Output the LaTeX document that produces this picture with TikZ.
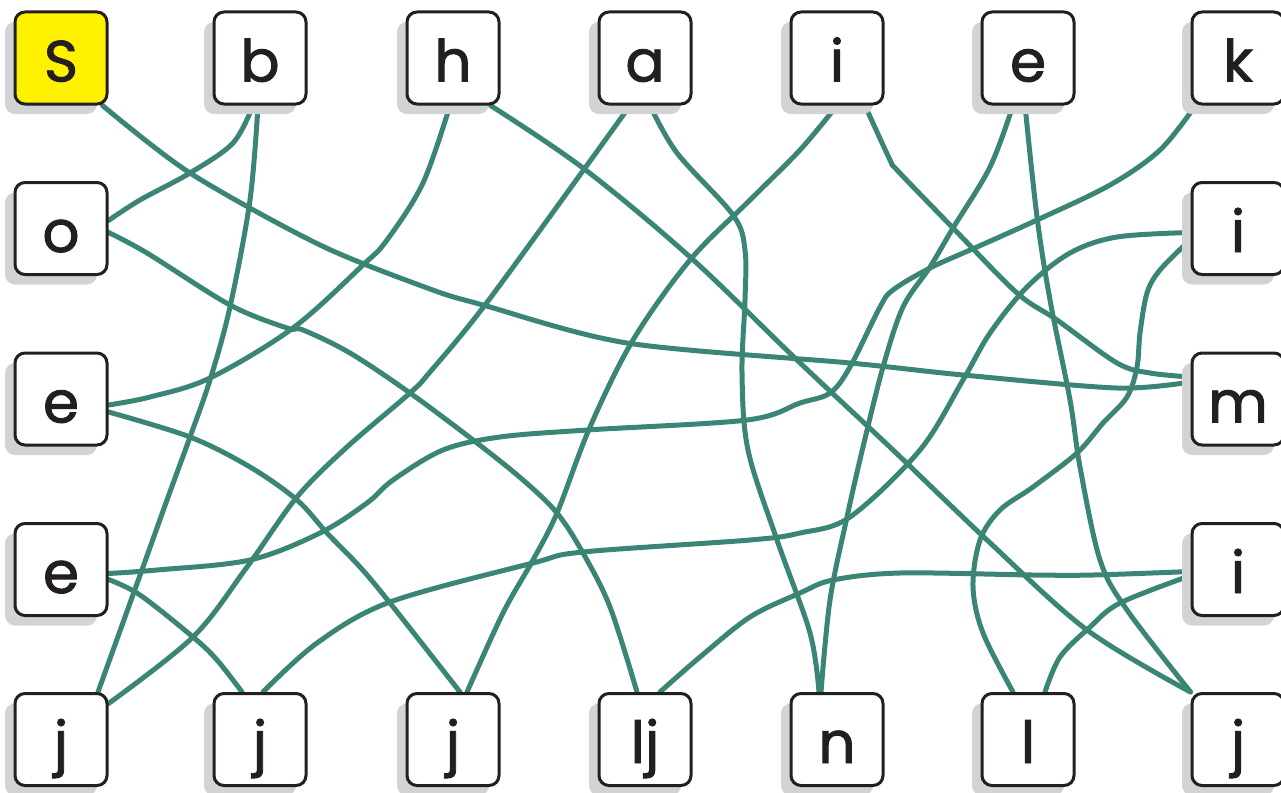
\documentclass[tikz,border=0pt]{standalone}
\usepackage{fontspec}
\setmainfont{Poppins}
\newfontfamily\lblfont{Poppins}[FakeBold=1.6]
\usetikzlibrary{shadows}
\pgfdeclarelayer{bg}
\pgfsetlayers{bg,main}
\definecolor{ink}{HTML}{231F20}
\definecolor{shade}{HTML}{D1D3D4}
\definecolor{lk}{HTML}{3B8577}
\definecolor{hl}{HTML}{FFF200}
\tikzset{
  box/.style={draw=ink, line width=3pt, rounded corners=10pt, fill=white,
    minimum size=92pt, inner sep=0pt, text height=47pt, text depth=0pt,
    text=ink, font=\lblfont\fontsize{58}{60}\selectfont,
    drop shadow={shadow xshift=-10pt, shadow yshift=-10pt, fill=shade, opacity=1}},
  conn/.style={draw=lk, line width=5pt, line cap=round, line join=round}
}
\begin{document}
\begin{tikzpicture}[x=1pt,y=-1pt]
\useasboundingbox (0,0) rectangle (1281,792);
% top row
\node[box, fill=hl] (S) at (61,58) {S};
\node[box] (b) at (260,58) {b};
\node[box] (h) at (453,58) {h};
\node[box] (a) at (645,58) {a};
\node[box] (i1) at (837,58) {i};
\node[box] (e1) at (1028,58) {e};
\node[box] (k) at (1238,58) {k};
% left column
\node[box] (o) at (61,228.5) {o};
\node[box] (e2) at (61,399) {e};
\node[box] (e3) at (61,569.5) {e};
% right column
\node[box] (i2) at (1238,228.5) {i};
\node[box] (m) at (1238,399) {m};
\node[box] (i3) at (1238,569.5) {i};
% bottom row
\node[box] (j1) at (61,739.5) {j};
\node[box] (j2) at (260,739.5) {j};
\node[box] (j3) at (453,739.5) {j};
\node[box] (lj) at (645,739.5) {lj};
\node[box] (n) at (837,739.5) {n};
\node[box] (l) at (1028,739.5) {l};
\node[box] (j4) at (1238,739.5) {j};
\begin{pgfonlayer}{bg}
% S - m
\draw[conn] plot[smooth, tension=0.5] coordinates {([xshift=-6pt]S.south east) (190,173) (320,245) (430,289) (483,305) (627,343) (850,363) (963,375) (1117,388) ([yshift=17pt]m.west)};
% b - o
\draw[conn] plot[smooth, tension=0.55] coordinates {([xshift=-7pt]b.south) (233,143) (190,173) (140,200) ([yshift=8pt]o.east)};
% b - j1
\draw[conn] plot[smooth, tension=0.55] coordinates {([xshift=-2pt]b.south) (250,200) (230,307) (210,380) (190,437) (167,500) (143,567) ([xshift=37pt]j1.north)};
% h - e2
\draw[conn] plot[smooth, tension=0.55] coordinates {([xshift=-3pt]h.south) (423,183) (387,240) (363,265) (293,328) (210,378) (150,397) ([yshift=-6pt]e2.east)};
% h - j4
\draw[conn] plot[smooth, tension=0.55] coordinates {([xshift=-10pt]h.south east) (583,168) (690,257) (797,360) (893,450) (987,540) (1087,630) (j4.north west)};
% a - j1
\draw[conn] plot[smooth, tension=0.55] coordinates {([xshift=-15pt]a.south) (585,168) (485,305) (430,372) (410,393) (347,447) (297,497) (247,567) (193,637) ([yshift=36pt]j1.east)};
% a - n
\draw[conn] plot[smooth, tension=0.55] coordinates {([xshift=5pt]a.south) (677,153) (733,215) (745,250) (745,300) (742,373) (748,450) (777,540) (810,633) ([xshift=-18pt]n.north)};
% i1 - j3
\draw[conn] plot[smooth, tension=0.55] coordinates {(i1.south) (800,150) (750,200) (690,260) (633,340) (590,427) (557,513) (533,560) (503,613) ([xshift=14pt]j3.north)};
% i1 - m
\draw[conn] plot[smooth, tension=0.55] coordinates {([xshift=28pt]i1.south) (890,160) (897,170) (953,228) (1017,293) (1057,320) (1117,363) (1150,373) ([yshift=22pt]m.west)};
% e1 - n
\draw[conn] plot[smooth, tension=0.55] coordinates {([xshift=-15pt]e1.south) (990,167) (953,228) (930,267) (903,307) (883,367) (863,447) (847,517) (830,600) ([xshift=-16pt]n.north)};
% e1 - j4
\draw[conn] plot[smooth, tension=0.55] coordinates {([xshift=-3pt]e1.south) (1037,217) (1050,300) (1070,400) (1080,467) (1100,560) (1127,610) (j4.north west)};
% k - e3
\draw[conn] plot[smooth, tension=0.55] coordinates {([xshift=5pt]k.south west) (1160,150) (1110,185) (1037,220) (977,247) (930,268) (893,290) (880,307) (850,367) (830,393) (800,403) (747,420) (587,430) (500,437) (443,450) (393,480) (367,503) (320,533) (250,560) (157,570) ([yshift=-4pt]e3.east)};
% i2 - j2
\draw[conn] plot[smooth, tension=0.55] coordinates {([yshift=-4pt]i2.west) (1117,237) (1070,253) (1027,287) (990,333) (963,380) (920,450) (850,517) (800,533) (750,540) (583,552) (533,563) (390,602) (317,643) ([xshift=3pt]j2.north)};
% i2 - l
\draw[conn] plot[smooth, tension=0.55] coordinates {([yshift=-11pt]i2.west) (1160,270) (1147,293) (1140,333) (1137,367) (1127,397) (1103,423) (1077,453) (1033,487) (1000,510) (980,540) (973,587) (983,633) ([xshift=-15pt]l.north)};
% o - lj
\draw[conn] plot[smooth, tension=0.55] coordinates {([yshift=-4pt]o.east) (147,253) (230,305) (287,328) (303,330) (350,353) (410,393) (477,443) (523,480) (557,513) (583,553) (610,607) ([xshift=-8pt]lj.north)};
% e2 - j3
\draw[conn] plot[smooth, tension=0.55] coordinates {([yshift=-13pt]e2.east) (190,437) (250,467) (297,500) (327,533) (360,567) (390,603) ([xshift=7pt]j3.north)};
% e3 - j2
\draw[conn] plot[smooth, tension=0.55] coordinates {([yshift=-10pt]e3.east) (140,595) (193,637) (217,660) ([xshift=-18pt]j2.north)};
% i3 - lj
\draw[conn] plot[smooth, tension=0.55] coordinates {([yshift=-2pt]i3.west) (1093,575) (1033,575) (900,573) (833,580) (800,593) (750,617) (700,657) ([xshift=15pt]lj.north)};
% i3 - l
\draw[conn] plot[smooth, tension=0.55] coordinates {([yshift=-6pt]i3.west) (1120,603) (1090,627) (1060,657) ([xshift=17pt]l.north)};
\end{pgfonlayer}
\end{tikzpicture}
\end{document}
